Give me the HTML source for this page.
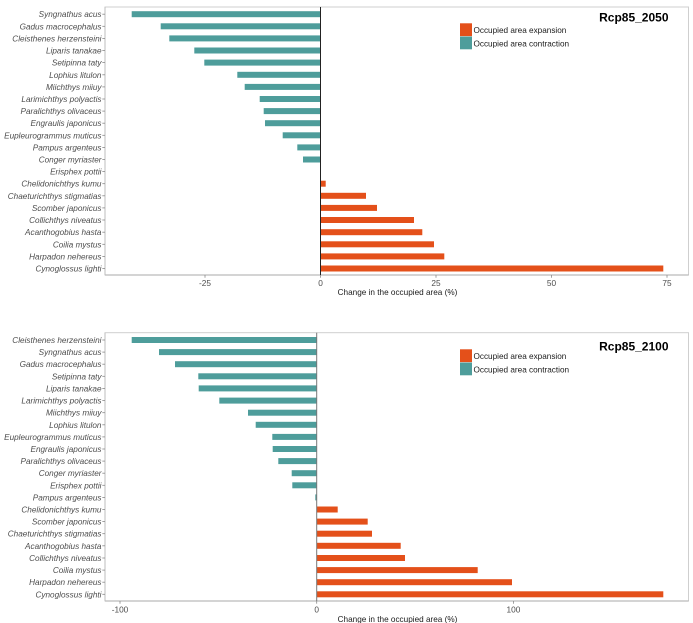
<!DOCTYPE html>
<html><head><meta charset="utf-8"><style>
html,body{margin:0;padding:0;background:#fff;}
svg{display:block;}
.yl{font-family:"Liberation Sans",sans-serif;font-size:8.2px;font-style:italic;fill:#4d4d4d;text-anchor:end;}
.xl{font-family:"Liberation Sans",sans-serif;font-size:8.3px;fill:#4d4d4d;text-anchor:middle;}
.at{font-family:"Liberation Sans",sans-serif;font-size:8.2px;fill:#1a1a1a;text-anchor:middle;}
.lg{font-family:"Liberation Sans",sans-serif;font-size:8.2px;fill:#1a1a1a;}
.tt{font-family:"Liberation Sans",sans-serif;font-size:12px;font-weight:bold;fill:#000;text-anchor:end;}
.o{fill:#E4501A;}
.t{fill:#4E9D9B;}
</style></head><body>
<svg width="693" height="623" viewBox="0 0 693 623" xmlns="http://www.w3.org/2000/svg">
<rect width="693" height="623" fill="#fff"/>

<!-- ============ TOP PANEL ============ -->
<rect x="105" y="7" width="583.5" height="268" fill="#fff" stroke="#cfcfcf" stroke-width="1"/>
<line x1="105" y1="275" x2="688.5" y2="275" stroke="#a8a8a8" stroke-width="1"/>
<line x1="105" y1="7" x2="105" y2="275" stroke="#bdbdbd" stroke-width="1"/>

<g>
<rect class="t" x="131.7" y="11.2" width="188.8" height="6"/>
<rect class="t" x="160.7" y="23.3" width="159.8" height="6"/>
<rect class="t" x="169.3" y="35.4" width="151.2" height="6"/>
<rect class="t" x="194.3" y="47.5" width="126.2" height="6"/>
<rect class="t" x="204.3" y="59.6" width="116.2" height="6"/>
<rect class="t" x="237.3" y="71.8" width="83.2" height="6"/>
<rect class="t" x="244.7" y="83.9" width="75.8" height="6"/>
<rect class="t" x="259.7" y="96.0" width="60.8" height="6"/>
<rect class="t" x="263.7" y="108.1" width="56.8" height="6"/>
<rect class="t" x="265.0" y="120.2" width="55.5" height="6"/>
<rect class="t" x="282.7" y="132.3" width="37.8" height="6"/>
<rect class="t" x="297.3" y="144.4" width="23.2" height="6"/>
<rect class="t" x="303.0" y="156.5" width="17.5" height="6"/>
<rect class="o" x="320.5" y="180.7" width="5.2" height="6"/>
<rect class="o" x="320.5" y="192.8" width="45.5" height="6"/>
<rect class="o" x="320.5" y="204.9" width="56.5" height="6"/>
<rect class="o" x="320.5" y="217.0" width="93.5" height="6"/>
<rect class="o" x="320.5" y="229.2" width="101.8" height="6"/>
<rect class="o" x="320.5" y="241.3" width="113.5" height="6"/>
<rect class="o" x="320.5" y="253.4" width="123.8" height="6"/>
<rect class="o" x="320.5" y="265.5" width="342.8" height="6"/>
</g>
<line x1="320.5" y1="7" x2="320.5" y2="275" stroke="#222" stroke-width="1"/>

<g stroke="#8a8a8a" stroke-width="0.8">
<line x1="102.3" y1="14.2" x2="105" y2="14.2"/><line x1="102.3" y1="26.3" x2="105" y2="26.3"/>
<line x1="102.3" y1="38.4" x2="105" y2="38.4"/><line x1="102.3" y1="50.5" x2="105" y2="50.5"/>
<line x1="102.3" y1="62.6" x2="105" y2="62.6"/><line x1="102.3" y1="74.8" x2="105" y2="74.8"/>
<line x1="102.3" y1="86.9" x2="105" y2="86.9"/><line x1="102.3" y1="99.0" x2="105" y2="99.0"/>
<line x1="102.3" y1="111.1" x2="105" y2="111.1"/><line x1="102.3" y1="123.2" x2="105" y2="123.2"/>
<line x1="102.3" y1="135.3" x2="105" y2="135.3"/><line x1="102.3" y1="147.4" x2="105" y2="147.4"/>
<line x1="102.3" y1="159.5" x2="105" y2="159.5"/><line x1="102.3" y1="171.6" x2="105" y2="171.6"/>
<line x1="102.3" y1="183.7" x2="105" y2="183.7"/><line x1="102.3" y1="195.8" x2="105" y2="195.8"/>
<line x1="102.3" y1="207.9" x2="105" y2="207.9"/><line x1="102.3" y1="220.0" x2="105" y2="220.0"/>
<line x1="102.3" y1="232.2" x2="105" y2="232.2"/><line x1="102.3" y1="244.3" x2="105" y2="244.3"/>
<line x1="102.3" y1="256.4" x2="105" y2="256.4"/><line x1="102.3" y1="268.5" x2="105" y2="268.5"/>
<line x1="205" y1="275" x2="205" y2="277.7"/><line x1="320.5" y1="275" x2="320.5" y2="277.7"/>
<line x1="436" y1="275" x2="436" y2="277.7"/><line x1="551.5" y1="275" x2="551.5" y2="277.7"/>
<line x1="667" y1="275" x2="667" y2="277.7"/>
</g>

<g class="yl">
<text x="101.5" y="17.2">Syngnathus acus</text>
<text x="101.5" y="29.3">Gadus macrocephalus</text>
<text x="101.5" y="41.4">Cleisthenes herzensteini</text>
<text x="101.5" y="53.5">Liparis tanakae</text>
<text x="101.5" y="65.6">Setipinna taty</text>
<text x="101.5" y="77.8">Lophius litulon</text>
<text x="101.5" y="89.9">Miichthys miiuy</text>
<text x="101.5" y="102.0">Larimichthys polyactis</text>
<text x="101.5" y="114.1">Paralichthys olivaceus</text>
<text x="101.5" y="126.2">Engraulis japonicus</text>
<text x="101.5" y="138.3">Eupleurogrammus muticus</text>
<text x="101.5" y="150.4">Pampus argenteus</text>
<text x="101.5" y="162.5">Conger myriaster</text>
<text x="101.5" y="174.6">Erisphex pottii</text>
<text x="101.5" y="186.7">Chelidonichthys kumu</text>
<text x="101.5" y="198.8">Chaeturichthys stigmatias</text>
<text x="101.5" y="210.9">Scomber japonicus</text>
<text x="101.5" y="223.0">Collichthys niveatus</text>
<text x="101.5" y="235.2">Acanthogobius hasta</text>
<text x="101.5" y="247.3">Coilia mystus</text>
<text x="101.5" y="259.4">Harpadon nehereus</text>
<text x="101.5" y="271.5">Cynoglossus lighti</text>
</g>
<g class="xl">
<text x="205" y="285.8">-25</text>
<text x="320.5" y="285.8">0</text>
<text x="436" y="285.8">25</text>
<text x="551.5" y="285.8">50</text>
<text x="667" y="285.8">75</text>
</g>
<text class="at" x="397.5" y="295">Change in the occupied area (%)</text>

<rect class="o" x="460" y="23.3" width="12" height="12.8"/>
<rect class="t" x="460" y="36.5" width="12" height="12.8"/>
<text class="lg" x="473.5" y="33">Occupied area expansion</text>
<text class="lg" x="473.5" y="46.3">Occupied area contraction</text>
<text class="tt" x="668.5" y="21.5">Rcp85_2050</text>

<!-- ============ BOTTOM PANEL ============ -->
<rect x="105" y="332.7" width="583.5" height="268.3" fill="#fff" stroke="#cfcfcf" stroke-width="1"/>
<line x1="105" y1="601" x2="688.5" y2="601" stroke="#a8a8a8" stroke-width="1"/>
<line x1="105" y1="332.7" x2="105" y2="601" stroke="#bdbdbd" stroke-width="1"/>

<g>
<rect class="t" x="131.7" y="337.0" width="185.0" height="6"/>
<rect class="t" x="159.0" y="349.1" width="157.7" height="6"/>
<rect class="t" x="175.0" y="361.2" width="141.7" height="6"/>
<rect class="t" x="198.3" y="373.3" width="118.4" height="6"/>
<rect class="t" x="198.7" y="385.4" width="118.0" height="6"/>
<rect class="t" x="219.3" y="397.6" width="97.4" height="6"/>
<rect class="t" x="248.0" y="409.7" width="68.7" height="6"/>
<rect class="t" x="255.7" y="421.8" width="61.0" height="6"/>
<rect class="t" x="272.3" y="433.9" width="44.4" height="6"/>
<rect class="t" x="272.7" y="446.0" width="44.0" height="6"/>
<rect class="t" x="278.3" y="458.1" width="38.4" height="6"/>
<rect class="t" x="291.7" y="470.2" width="25.0" height="6"/>
<rect class="t" x="292.3" y="482.3" width="24.4" height="6"/>
<rect class="t" x="315.3" y="494.4" width="1.4" height="6"/>
<rect class="o" x="316.7" y="506.5" width="21.0" height="6"/>
<rect class="o" x="316.7" y="518.6" width="51.0" height="6"/>
<rect class="o" x="316.7" y="530.7" width="55.3" height="6"/>
<rect class="o" x="316.7" y="542.8" width="84.0" height="6"/>
<rect class="o" x="316.7" y="555.0" width="88.3" height="6"/>
<rect class="o" x="316.7" y="567.1" width="161.0" height="6"/>
<rect class="o" x="316.7" y="579.2" width="195.3" height="6"/>
<rect class="o" x="316.7" y="591.3" width="346.6" height="6"/>
</g>
<line x1="316.7" y1="332.7" x2="316.7" y2="601" stroke="#777" stroke-width="1"/>

<g stroke="#8a8a8a" stroke-width="0.8">
<line x1="102.3" y1="340.0" x2="105" y2="340.0"/><line x1="102.3" y1="352.1" x2="105" y2="352.1"/>
<line x1="102.3" y1="364.2" x2="105" y2="364.2"/><line x1="102.3" y1="376.3" x2="105" y2="376.3"/>
<line x1="102.3" y1="388.4" x2="105" y2="388.4"/><line x1="102.3" y1="400.6" x2="105" y2="400.6"/>
<line x1="102.3" y1="412.7" x2="105" y2="412.7"/><line x1="102.3" y1="424.8" x2="105" y2="424.8"/>
<line x1="102.3" y1="436.9" x2="105" y2="436.9"/><line x1="102.3" y1="449.0" x2="105" y2="449.0"/>
<line x1="102.3" y1="461.1" x2="105" y2="461.1"/><line x1="102.3" y1="473.2" x2="105" y2="473.2"/>
<line x1="102.3" y1="485.3" x2="105" y2="485.3"/><line x1="102.3" y1="497.4" x2="105" y2="497.4"/>
<line x1="102.3" y1="509.5" x2="105" y2="509.5"/><line x1="102.3" y1="521.6" x2="105" y2="521.6"/>
<line x1="102.3" y1="533.7" x2="105" y2="533.7"/><line x1="102.3" y1="545.8" x2="105" y2="545.8"/>
<line x1="102.3" y1="558.0" x2="105" y2="558.0"/><line x1="102.3" y1="570.1" x2="105" y2="570.1"/>
<line x1="102.3" y1="582.2" x2="105" y2="582.2"/><line x1="102.3" y1="594.3" x2="105" y2="594.3"/>
<line x1="120" y1="601" x2="120" y2="603.7"/><line x1="316.7" y1="601" x2="316.7" y2="603.7"/>
<line x1="513.4" y1="601" x2="513.4" y2="603.7"/>
</g>

<g class="yl">
<text x="101.5" y="343.0">Cleisthenes herzensteini</text>
<text x="101.5" y="355.1">Syngnathus acus</text>
<text x="101.5" y="367.2">Gadus macrocephalus</text>
<text x="101.5" y="379.3">Setipinna taty</text>
<text x="101.5" y="391.4">Liparis tanakae</text>
<text x="101.5" y="403.6">Larimichthys polyactis</text>
<text x="101.5" y="415.7">Miichthys miiuy</text>
<text x="101.5" y="427.8">Lophius litulon</text>
<text x="101.5" y="439.9">Eupleurogrammus muticus</text>
<text x="101.5" y="452.0">Engraulis japonicus</text>
<text x="101.5" y="464.1">Paralichthys olivaceus</text>
<text x="101.5" y="476.2">Conger myriaster</text>
<text x="101.5" y="488.3">Erisphex pottii</text>
<text x="101.5" y="500.4">Pampus argenteus</text>
<text x="101.5" y="512.5">Chelidonichthys kumu</text>
<text x="101.5" y="524.6">Scomber japonicus</text>
<text x="101.5" y="536.7">Chaeturichthys stigmatias</text>
<text x="101.5" y="548.8">Acanthogobius hasta</text>
<text x="101.5" y="561.0">Collichthys niveatus</text>
<text x="101.5" y="573.1">Coilia mystus</text>
<text x="101.5" y="585.2">Harpadon nehereus</text>
<text x="101.5" y="597.3">Cynoglossus lighti</text>
</g>
<g class="xl">
<text x="120" y="612.3">-100</text>
<text x="316.7" y="612.3">0</text>
<text x="513.4" y="612.3">100</text>
</g>
<text class="at" x="397.5" y="622">Change in the occupied area (%)</text>

<rect class="o" x="460" y="349.3" width="12" height="12.8"/>
<rect class="t" x="460" y="362.5" width="12" height="12.8"/>
<text class="lg" x="473.5" y="359">Occupied area expansion</text>
<text class="lg" x="473.5" y="372.7">Occupied area contraction</text>
<text class="tt" x="668.5" y="350.3">Rcp85_2100</text>
</svg>
</body></html>
